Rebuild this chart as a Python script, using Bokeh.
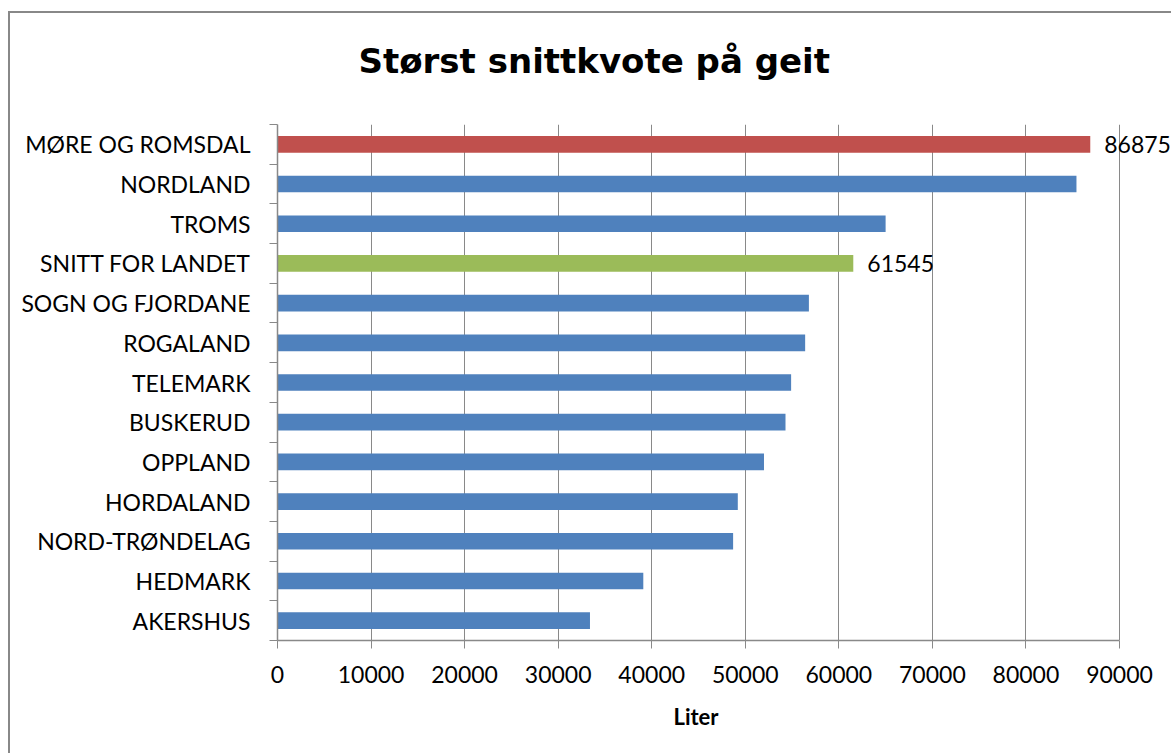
from bokeh.plotting import figure
from bokeh.models import FixedTicker, Label, ColumnDataSource, Range1d, NumeralTickFormatter, Title
from bokeh.embed import file_html
from bokeh.resources import INLINE

# ---- data ----
categories = ["MØRE OG ROMSDAL", "NORDLAND", "TROMS", "SNITT FOR LANDET",
              "SOGN OG FJORDANE", "ROGALAND", "TELEMARK", "BUSKERUD",
              "OPPLAND", "HORDALAND", "NORD-TRØNDELAG", "HEDMARK", "AKERSHUS"]
values = [86875, 85400, 65000, 61545, 56800, 56400, 54900, 54300,
          52000, 49200, 48700, 39100, 33400]
labeled_categories = ["MØRE OG ROMSDAL", "SNITT FOR LANDET"]
x_ticks = [0, 10000, 20000, 30000, 40000, 50000, 60000, 70000, 80000, 90000]
title_text = "Størst snittkvote på geit"
x_label = "Liter"

# ---- styles / layout ----
BLUE, RED, GREEN = "#4F81BD", "#C0504D", "#9BBB59"
highlight = {"MØRE OG ROMSDAL": RED, "SNITT FOR LANDET": GREEN}
GRAY = "#898989"
FONT = "Lato"
W, H = 1163, 742
LEFT, TOP, BOTTOM = 267, 111, 115
AXIS_W = 842                      # pixel length of the 0..90000 axis
x_lo, x_hi = x_ticks[0], x_ticks[-1]
# frame extends to the right edge so the data label is not clipped
x_end = x_lo + (x_hi - x_lo) * (W - LEFT) / AXIS_W

n = len(categories)
ypos = [n - i - 0.5 for i in range(n)]
colors = [highlight.get(c, BLUE) for c in categories]

src = ColumnDataSource(dict(cat=categories, y=ypos, value=values, color=colors))

p = figure(width=W, height=H,
           x_range=Range1d(x_lo, x_end), y_range=Range1d(0, n),
           output_backend="svg", toolbar_location=None,
           min_border_left=LEFT, min_border_right=0,
           min_border_top=TOP, min_border_bottom=BOTTOM)
p.margin = (11, 0, 0, 8)
p.styles = {"border-top": "2px solid #888888", "border-left": "2px solid #888888"}
p.outline_line_color = None
p.background_fill_color = "white"
p.border_fill_color = "white"
p.title.text = ""

p.hbar(y="y", left=0, right="value", height=0.42, fill_color="color",
       line_color=None, source=src)

# data labels for the highlighted bars
for c in labeled_categories:
    i = categories.index(c)
    p.add_layout(Label(x=values[i], y=ypos[i], text=str(values[i]), x_offset=14,
                       text_baseline="middle", text_align="left",
                       text_font=FONT, text_font_size="23px", text_color="black"))

# title: a thin spacer next to the frame, then the title text
p.add_layout(Title(text=" ", text_font_size="1px", standoff=41), "above")
p.add_layout(Title(text=title_text, text_font="DejaVu Sans", text_font_style="bold",
                   text_font_size="34px", text_color="black", align="left",
                   offset=81, standoff=0), "above")

# x axis
xa = p.xaxis[0]
xa.ticker = FixedTicker(ticks=x_ticks)
xa.bounds = (x_lo, x_hi)
xa.formatter = NumeralTickFormatter(format="0")
xa.axis_line_color = GRAY
xa.axis_line_width = 1.5
xa.major_tick_line_color = GRAY
xa.major_tick_out = 8
xa.major_tick_in = 0
xa.minor_tick_line_color = None
xa.major_label_text_font = FONT
xa.major_label_text_font_size = "23px"
xa.major_label_text_color = "black"
xa.major_label_standoff = 17

# axis title, centred under the 0..90000 axis
p.add_layout(Title(text=x_label, text_font=FONT, text_font_style="bold",
                   text_font_size="22px", text_color="black", align="left",
                   offset=396, vertical_align="top", standoff=34), "below")

# y axis: labels at category centres, tick marks at category boundaries
ya = p.yaxis[0]
ya.ticker = FixedTicker(ticks=ypos, minor_ticks=list(range(n + 1)))
ya.major_label_overrides = {y: c for y, c in zip(ypos, categories)}
ya.axis_line_color = GRAY
ya.axis_line_width = 1.5
ya.major_tick_line_color = None
ya.major_tick_out = 0
ya.major_tick_in = 0
ya.minor_tick_line_color = GRAY
ya.minor_tick_out = 8
ya.minor_tick_in = 0
ya.major_label_text_font = FONT
ya.major_label_text_font_size = "23px"
ya.major_label_text_color = "black"
ya.major_label_standoff = 19

p.xgrid.grid_line_color = GRAY
p.xgrid.grid_line_width = 1
p.xgrid.ticker = FixedTicker(ticks=x_ticks)
p.xgrid.bounds = (x_lo, x_hi)
p.ygrid.grid_line_color = None

open("out.html", "w").write(file_html(p, INLINE))
